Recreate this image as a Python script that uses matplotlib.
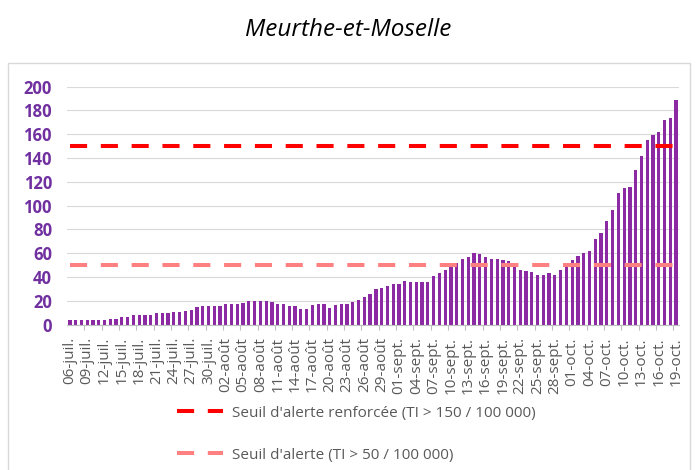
import matplotlib
matplotlib.use("Agg")
import matplotlib.pyplot as plt
from matplotlib.patches import Rectangle
import numpy as np

plt.rcParams['font.family'] = ['Open Sans', 'DejaVu Sans']

title = "Meurthe-et-Moselle"

tick_labels = ["06-juil.", "09-juil.", "12-juil.", "15-juil.", "18-juil.", "21-juil.",
               "24-juil.", "27-juil.", "30-juil.", "02-août", "05-août", "08-août",
               "11-août", "14-août", "17-août", "20-août", "23-août", "26-août",
               "29-août", "01-sept.", "04-sept.", "07-sept.", "10-sept.", "13-sept.",
               "16-sept.", "19-sept.", "22-sept.", "25-sept.", "28-sept.", "01-oct.",
               "04-oct.", "07-oct.", "10-oct.", "13-oct.", "16-oct.", "19-oct."]

values = [3.5, 3.5, 3.5, 3.5, 3.5, 3.5, 3.8,
          4.5, 4.7, 6.0, 6.3, 7.8, 7.8, 8.3, 8.3, 9.4, 9.6,
          9.7, 10.7, 10.7, 11.0, 12.3, 15.0, 15.6, 15.6, 15.6, 15.9, 17.0, 17.0, 17.0,
          17.8, 20.0, 20.0, 20.0, 19.7,
          19.0, 17.0, 17.0, 15.6, 15.6, 13.0, 13.0, 16.0, 17.0, 17.0, 14.0, 16.0, 17.0,
          17.0, 19.0, 20.5, 23.0, 26.0, 29.5,
          31.0, 32.5, 34.0, 34.0, 37.0, 36.0, 36.0, 36.0, 36.0, 40.5, 43.0, 45.5, 50.0, 51.5,
          55.5, 56.6, 60.5, 59.4, 56.6, 55.5, 55.5, 54.0, 53.0, 49.0, 46.0, 45.4, 44.0,
          42.0, 42.0, 43.0, 42.0, 46.0, 49.0, 54.0, 57.7, 60.5, 61.6, 72.0, 77.0, 87.0,
          96.6, 111.0, 114.6, 116.0, 130.0, 142.0, 155.0, 159.0, 161.6, 171.7, 174.0, 188.5]

seuil_renforce = 150
seuil_alerte = 50
label_renforce = "Seuil d'alerte renforcée (TI > 150 / 100 000)"
label_alerte = "Seuil d'alerte (TI > 50 / 100 000)"

W, H = 697, 470
fig = plt.figure(figsize=(W / 100, H / 100), dpi=100)
fig.patch.set_facecolor('white')

# chart border
fig.patches.append(Rectangle((8 / W, -0.01), (690 - 8) / W, 1 - 63 / H + 0.01,
                             transform=fig.transFigure, fill=False,
                             edgecolor='#D9D9D9', linewidth=1.0))

ax = fig.add_axes([67 / W, 1 - 324.5 / H, (679 - 67) / W, (324.5 - 86.7) / H])

n = len(values)
x = np.arange(n)
ax.bar(x, values, width=0.56, color='#8B2AA3', linewidth=0, zorder=2)

l1, = ax.plot([x[0], x[-1]], [seuil_renforce] * 2, color='#FF0000', linewidth=2.9,
              solid_capstyle='butt', dash_capstyle='butt', zorder=3, label=label_renforce)
l2, = ax.plot([x[0], x[-1]], [seuil_alerte] * 2, color='#FF8080', linewidth=2.9,
              solid_capstyle='butt', dash_capstyle='butt', zorder=3, label=label_alerte)
for l in (l1, l2):
    l.set_dashes((4.25, 3.4))

ax.set_xlim(-0.5, n - 0.5)
ax.set_ylim(0, 200)
ax.set_yticks(np.arange(0, 201, 20))
ax.grid(axis='y', color='#D9D9D9', linewidth=0.8, zorder=0)
ax.set_axisbelow(True)

for s in ('top', 'right', 'left'):
    ax.spines[s].set_visible(False)
ax.spines['bottom'].set_color('#BFBFBF')
ax.spines['bottom'].set_linewidth(0.8)

ax.tick_params(axis='y', length=0, pad=10.8, labelsize=12, labelcolor='#7030A0')
for t in ax.get_yticklabels():
    t.set_fontweight('bold')

ax.set_xticks(x[::3])
ax.set_xticklabels(tick_labels, rotation=90, fontsize=11, color='#595959',
                   va='top', ha='center')
ax.tick_params(axis='x', which='major', length=0, pad=9)
ax.set_xticks(np.arange(2.5, n, 3), minor=True)
ax.tick_params(axis='x', which='minor', length=3.6, color='#BFBFBF', width=0.8)

fig.text(348 / W, 1 - 36 / H, title, ha='center', va='baseline', fontsize=17.5,
         style='italic', color='#000000')

fs = 11
fs_px = fs * 100 / 72
for handle, ycen in ((l1, 413), (l2, 455)):
    leg = fig.legend(handles=[handle], loc='center left',
                     bbox_to_anchor=((177 - 0.4 * fs_px) / W, 1 - ycen / H),
                     frameon=False, fontsize=fs, handlelength=46 / fs_px,
                     handletextpad=9 / fs_px, labelcolor='#595959',
                     borderaxespad=0)

fig.savefig('out.png', dpi=100)
